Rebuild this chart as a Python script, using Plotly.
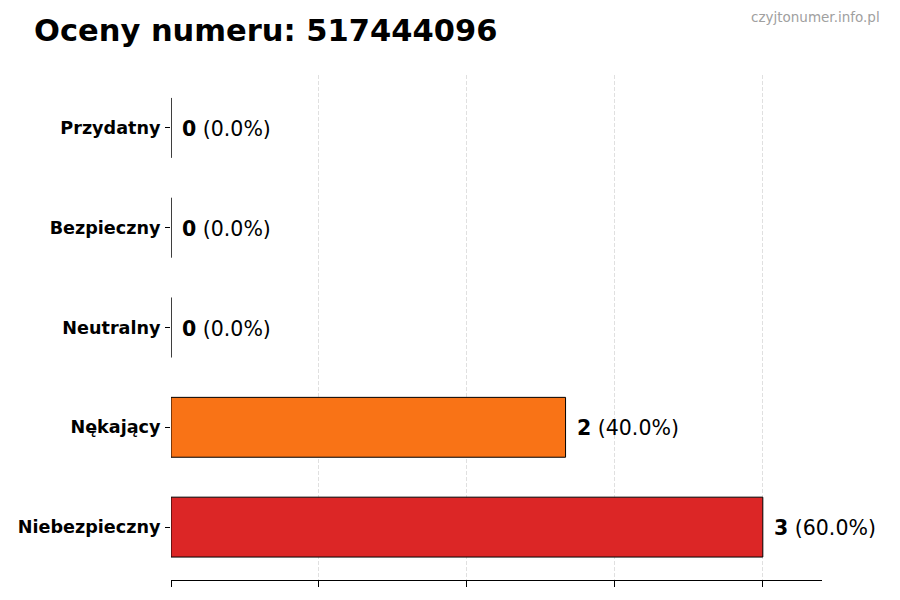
import plotly.graph_objects as go

# ratings shown from bottom to top
categories = ['Niebezpieczny', 'Nękający', 'Neutralny', 'Bezpieczny', 'Przydatny']
counts = [3, 2, 0, 0, 0]
bar_colors = ['#dc2626', '#f97316', '#9ca3af', '#22c55e', '#3b82f6']
phone_number = '517444096'

total = sum(counts)
percents = [100.0 * c / total if total else 0.0 for c in counts]

fig = go.Figure()
fig.add_trace(go.Bar(
    x=counts, y=categories, orientation='h', width=0.6,
    marker=dict(color=bar_colors, line=dict(color='black', width=1)),
    hoverinfo='skip', showlegend=False,
))

for cat, cnt, pct in zip(categories, counts, percents):
    fig.add_annotation(
        x=cnt, y=cat, xanchor='left', yanchor='middle', xshift=9, yshift=-1,
        text=f'<b>{cnt}</b> ({pct:.1f}%)', showarrow=False,
        font=dict(size=20.5, color='black', family='DejaVu Sans'),
    )

fig.add_annotation(
    xref='paper', yref='paper', x=-0.213, y=1.089, xanchor='left', yanchor='middle',
    text=f'<b>Oceny numeru: {phone_number}</b>', showarrow=False,
    font=dict(size=30.5, color='black', family='DejaVu Sans'),
)
fig.add_annotation(
    xref='paper', yref='paper', x=1.092, y=1.115, xanchor='right', yanchor='middle',
    text='czyjtonumer.info.pl', showarrow=False,
    font=dict(size=13.5, color='#a0a0a0', family='DejaVu Sans'),
)

fig.update_xaxes(
    range=[0, max(counts) * 1.1], dtick=0.75, tick0=0,
    showticklabels=False, ticks='outside', ticklen=6, tickcolor='black',
    showgrid=True, gridcolor='#e0e0e0', griddash='4px,2px', gridwidth=1,
    showline=True, linecolor='black', linewidth=1, zeroline=False,
)
fig.update_yaxes(
    range=[-0.53, len(categories) - 0.47], automargin=False,
    tickvals=categories, ticktext=[f'<b>{c}</b>' for c in categories],
    ticks='outside', ticklen=5, tickcolor='black', ticklabelstandoff=1,
    tickfont=dict(size=17.6, color='black', family='DejaVu Sans'),
    showline=False, showgrid=False, zeroline=False,
)
# page body has an 8px margin, so the figure is drawn 8px smaller
fig.update_layout(
    width=892, height=592,
    margin=dict(l=163, r=78, t=67, b=20),
    paper_bgcolor='white', plot_bgcolor='white',
    font=dict(family='DejaVu Sans'),
)

fig.write_html('out.html')
